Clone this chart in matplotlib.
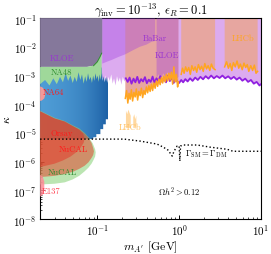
import matplotlib
matplotlib.use("Agg")
import matplotlib.pyplot as plt
import numpy as np
from matplotlib.colors import LinearSegmentedColormap
from matplotlib.patches import Polygon
from matplotlib.ticker import LogLocator, NullFormatter

plt.rcParams.update({
    "font.family": "serif",
    "font.serif": ["cmr10", "DejaVu Serif"],
    "mathtext.fontset": "cm",
    "axes.formatter.use_mathtext": True,
})

# ── Data (m_A' in GeV, kappa) ─────────────────────────────────────────────
XLIM = (0.02, 10.0)
YLIM = (1e-8, 1e-1)
XTICKS = [0.1, 1.0, 10.0]
YTICKS = [1e-8, 1e-7, 1e-6, 1e-5, 1e-4, 1e-3, 1e-2, 1e-1]

# KLOE (low mass, top-left block)
kloe1_m = [0.02, 0.115, 0.115, 0.108, 0.100, 0.090, 0.075, 0.02]
kloe1_k = [0.1, 0.1, 6.0e-3, 4.5e-3, 3.0e-3, 2.2e-3, 2.0e-3, 2.0e-3]

# BaBar lower boundary
babar_m = [0.115, 0.13, 0.15, 0.18, 0.22, 0.27, 0.33, 0.40, 0.46, 0.51]
babar_k = [2.6e-3, 3.0e-3, 3.5e-3, 4.4e-3, 5.5e-3, 7.5e-3, 1.0e-2, 1.2e-2, 1.5e-2, 1.6e-2]

# KLOE (high mass) lower boundary
kloe2_m = [0.53, 0.56, 0.60, 0.64, 0.68, 0.72, 0.76, 0.80, 0.85, 0.90, 0.95, 0.98]
kloe2_k = [8.0e-4, 1.1e-3, 7.5e-4, 1.2e-3, 8.5e-4, 1.3e-3, 9.0e-4, 1.2e-3, 7.0e-4, 1.0e-3, 8.0e-4, 9.0e-4]

# invisible-decay (purple) lower edge
purple_m = [0.100, 0.104, 0.108, 0.112, 0.116, 0.121, 0.126, 0.131, 0.136, 0.142,
            0.148, 0.154, 0.160, 0.167, 0.174, 0.181, 0.189, 0.197, 0.205, 0.214,
            0.223, 0.235, 0.248, 0.262, 0.277, 0.292, 0.308, 0.325, 0.343, 0.362,
            0.382, 0.403, 0.425, 0.449, 0.474, 0.500, 0.528, 0.557, 0.588, 0.620,
            0.655, 0.691, 0.729, 0.770, 0.812, 0.857, 0.905, 0.955, 1.00, 1.06,
            1.12, 1.19, 1.27, 1.36, 1.46, 1.57, 1.69, 1.82, 1.96, 2.11,
            2.28, 2.46, 2.66, 2.88, 3.12, 3.38, 3.66, 3.97, 4.30, 4.66,
            5.05, 5.47, 5.93, 6.42, 6.96, 7.54, 8.17, 8.85, 9.59, 10.0]
purple_k = [8.0e-4, 5.5e-4, 9.0e-4, 4.8e-4, 8.5e-4, 6.0e-4, 1.0e-3, 5.0e-4, 9.0e-4, 6.5e-4,
            1.1e-3, 5.2e-4, 8.0e-4, 4.5e-4, 9.5e-4, 6.0e-4, 8.5e-4, 4.8e-4, 9.0e-4, 6.2e-4,
            8.0e-4, 6.0e-4, 8.5e-4, 5.2e-4, 7.8e-4, 5.8e-4, 9.0e-4, 5.5e-4, 7.5e-4, 6.2e-4,
            8.8e-4, 5.4e-4, 7.2e-4, 6.0e-4, 9.2e-4, 5.6e-4, 8.0e-4, 6.5e-4, 9.5e-4, 6.0e-4,
            8.2e-4, 5.8e-4, 1.0e-3, 6.4e-4, 8.5e-4, 5.5e-4, 7.6e-4, 6.0e-4, 5.5e-4, 7.0e-4,
            5.8e-4, 7.5e-4, 6.2e-4, 8.0e-4, 6.5e-4, 8.5e-4, 7.0e-4, 9.0e-4, 7.4e-4, 9.5e-4,
            7.8e-4, 1.0e-3, 8.0e-4, 9.6e-4, 8.2e-4, 1.0e-3, 8.0e-4, 9.4e-4, 7.6e-4, 9.0e-4,
            7.2e-4, 8.5e-4, 6.6e-4, 7.8e-4, 6.0e-4, 7.0e-4, 5.2e-4, 6.0e-4, 4.5e-4, 5.0e-4]

# LHCb lower edges (three mass windows)
lhcb1_m = [0.220, 0.228, 0.236, 0.244, 0.252, 0.261, 0.270, 0.280, 0.290, 0.300,
           0.311, 0.322, 0.334, 0.346, 0.358, 0.371, 0.384, 0.398, 0.412, 0.427,
           0.442, 0.458, 0.474, 0.491, 0.509, 0.527, 0.546, 0.566, 0.586, 0.607,
           0.629, 0.651, 0.674, 0.698, 0.723, 0.749, 0.776, 0.804, 0.833, 0.862,
           0.893, 0.925, 0.958, 0.980]
lhcb1_k = [1.6e-4, 3.0e-4, 1.1e-4, 2.4e-4, 1.5e-4, 3.2e-4, 1.3e-4, 2.6e-4, 1.8e-4, 3.4e-4,
           1.4e-4, 2.8e-4, 2.0e-4, 3.6e-4, 1.7e-4, 3.0e-4, 2.2e-4, 4.0e-4, 2.5e-4, 4.4e-4,
           2.8e-4, 5.0e-4, 3.0e-4, 5.5e-4, 3.6e-4, 6.5e-4, 4.2e-4, 7.5e-4, 4.8e-4, 8.5e-4,
           5.5e-4, 9.5e-4, 6.0e-4, 1.1e-3, 6.5e-4, 1.2e-3, 7.0e-4, 1.3e-3, 5.0e-4, 2.0e-3,
           6.0e-4, 1.1e-3, 4.0e-4, 6.0e-4]
lhcb2_m = [1.06, 1.10, 1.15, 1.20, 1.25, 1.31, 1.37, 1.43, 1.50, 1.57, 1.64,
           1.72, 1.80, 1.88, 1.97, 2.06, 2.16, 2.26, 2.37, 2.48, 2.60, 2.75]
lhcb2_k = [1.1e-3, 1.8e-3, 1.2e-3, 2.0e-3, 1.4e-3, 1.9e-3, 1.1e-3, 2.2e-3, 1.5e-3, 2.0e-3, 1.3e-3,
           2.4e-3, 1.6e-3, 2.1e-3, 1.4e-3, 2.6e-3, 1.7e-3, 2.2e-3, 1.5e-3, 2.5e-3, 1.8e-3, 1.6e-3]
lhcb3_m = [3.6, 3.8, 4.0, 4.2, 4.4, 4.6, 4.85, 5.1, 5.35, 5.6,
           5.9, 6.2, 6.5, 6.8, 7.1, 7.5, 7.9, 8.3, 8.7, 9.1]
lhcb3_k = [2.0e-3, 3.0e-3, 1.8e-3, 2.6e-3, 1.5e-3, 2.8e-3, 2.0e-3, 3.2e-3, 1.8e-3, 2.5e-3,
           1.6e-3, 2.7e-3, 1.9e-3, 2.4e-3, 1.4e-3, 2.2e-3, 1.5e-3, 2.3e-3, 1.2e-3, 1.4e-3]

# LHCb displaced islands
lhcb_isl1_m = [0.224, 0.232, 0.240, 0.248, 0.256, 0.256, 0.224]
lhcb_isl1_k = [6.0e-5, 4.5e-5, 6.5e-5, 5.0e-5, 4.0e-5, 1.5e-5, 1.5e-5]
lhcb_isl2_m = [0.275, 0.283, 0.291, 0.300, 0.300, 0.275]
lhcb_isl2_k = [3.5e-5, 4.5e-5, 3.0e-5, 4.0e-5, 1.5e-5, 1.5e-5]

# blue region (top edge then staircase)
blue_m = [0.02, 0.113, 0.116, 0.119, 0.122, 0.125, 0.128, 0.131, 0.134, 0.136,
          0.136, 0.127, 0.127, 0.118, 0.118, 0.109, 0.109, 0.0972, 0.0972, 0.0894,
          0.0894, 0.02]
blue_k = [1.9e-3, 1.9e-3, 6.5e-4, 9.5e-4, 5.8e-4, 8.8e-4, 6.2e-4, 9.0e-4, 5.5e-4, 7.5e-4,
          3.0e-5, 3.0e-5, 2.0e-5, 2.0e-5, 1.36e-5, 1.36e-5, 9.1e-6, 9.1e-6, 7.1e-6, 7.1e-6,
          6.1e-6, 6.1e-6]

# NA48/2
na48_top_m = [0.02, 0.075, 0.090, 0.100, 0.108, 0.113]
na48_top_k = [2.0e-3, 2.0e-3, 2.2e-3, 3.0e-3, 4.5e-3, 6.0e-3]
na48_bot_m = [0.113, 0.110, 0.107, 0.104, 0.101, 0.098, 0.095, 0.092, 0.089, 0.086,
              0.083, 0.080, 0.077, 0.074, 0.071, 0.068, 0.065, 0.062, 0.059, 0.056,
              0.053, 0.050, 0.047, 0.044, 0.041, 0.038, 0.035, 0.032, 0.029, 0.026,
              0.023, 0.020]
na48_bot_k = [1.2e-3, 7.0e-4, 1.1e-3, 6.0e-4, 1.0e-3, 7.5e-4, 1.2e-3, 6.5e-4, 1.0e-3, 5.5e-4,
              9.0e-4, 7.0e-4, 1.2e-3, 6.0e-4, 9.5e-4, 5.2e-4, 1.1e-3, 7.0e-4, 1.3e-3, 6.0e-4,
              9.0e-4, 5.5e-4, 1.0e-3, 6.5e-4, 1.2e-3, 5.8e-4, 9.0e-4, 5.0e-4, 8.0e-4, 4.5e-4,
              7.0e-4, 5.0e-4]

# NA64
na64_m = [0.02, 0.0215, 0.0228, 0.0232, 0.0225, 0.021, 0.02]
na64_k = [4.2e-4, 3.8e-4, 3.0e-4, 2.2e-4, 1.6e-4, 1.35e-4, 1.3e-4]

# beam dumps
nucal_g_m = [0.02, 0.03, 0.04, 0.05, 0.06, 0.07, 0.08, 0.088, 0.094, 0.0955,
             0.094, 0.09, 0.085, 0.078, 0.07, 0.06, 0.05, 0.04, 0.03, 0.02]
nucal_g_k = [6.0e-5, 3.4e-5, 2.6e-5, 1.85e-5, 1.45e-5, 1.0e-5, 6.6e-6, 4.3e-6, 2.7e-6, 2.1e-6,
             1.5e-6, 1.15e-6, 8.5e-7, 6.2e-7, 4.6e-7, 3.2e-7, 2.4e-7, 1.9e-7, 1.7e-7, 1.6e-7]
nucal_r_m = [0.02, 0.03, 0.04, 0.05, 0.06, 0.07, 0.078, 0.085, 0.089, 0.091,
             0.089, 0.085, 0.078, 0.07, 0.06, 0.05, 0.04, 0.03, 0.02]
nucal_r_k = [5.7e-5, 3.2e-5, 2.5e-5, 1.75e-5, 1.35e-5, 9.5e-6, 6.8e-6, 4.5e-6, 3.0e-6, 2.3e-6,
             1.7e-6, 1.35e-6, 9.5e-7, 7.2e-7, 5.6e-7, 4.4e-7, 3.7e-7, 3.2e-7, 2.9e-7]
orsay_m = [0.02, 0.03, 0.04, 0.05, 0.06, 0.067, 0.07, 0.068, 0.062, 0.055,
           0.047, 0.038, 0.03, 0.02]
orsay_k = [5.7e-5, 3.2e-5, 2.5e-5, 1.75e-5, 1.3e-5, 9.5e-6, 6.5e-6, 4.5e-6, 3.0e-6, 2.1e-6,
           1.5e-6, 1.1e-6, 8.5e-7, 6.5e-7]
e137_m = [0.02, 0.0215, 0.0225, 0.0225, 0.0215, 0.02]
e137_k = [3.5e-7, 3.0e-7, 2.0e-7, 1.0e-7, 7.0e-8, 6.0e-8]

# Gamma_SM = Gamma_DM contour
gamma_m = [0.02, 0.213, 0.334, 0.537, 0.64, 0.735, 0.822, 0.866, 0.945, 1.0,
           1.02, 1.04, 1.12, 1.66, 2.39, 3.86, 4.55, 10.0]
gamma_k = [6.1e-6, 6.1e-6, 5.2e-6, 4.1e-6, 3.2e-6, 2.5e-6, 1.56e-6, 2.3e-6, 3.5e-6, 3.5e-6,
           1.05e-6, 3.5e-6, 3.8e-6, 3.8e-6, 3.2e-6, 2.7e-6, 2.3e-6, 2.3e-6]

# colours
LAVENDER = "#dcabef"
PURPLE = "#a040e0"
PURPLE_EDGE = "#9020e0"
SALMON = "#e7a6a0"
ORANGE = "#ffa520"
KLOE_GREY = "#85789b"
GREEN = "#9fd89a"
DKGREEN = "#2e8b2e"
RED = "#ff1a1a"


def closed_top(m, k, top=YLIM[1]):
    return [m[0]] + list(m) + [m[-1]], [top] + list(k) + [top]


fig = plt.figure(figsize=(2.71, 2.55), dpi=100)
ax = fig.add_axes([0.148, 0.137, 0.815, 0.788])
ax.set_xscale("log")
ax.set_yscale("log")

# invisible (lavender) + LHCb (salmon)
ax.fill(*closed_top(purple_m, purple_k), color=LAVENDER, lw=0, zorder=1)
for lm, lk in [(lhcb1_m, lhcb1_k), (lhcb2_m, lhcb2_k), (lhcb3_m, lhcb3_k)]:
    ax.fill(*closed_top(lm, lk), color=SALMON, lw=0, zorder=2)

# BaBar and KLOE overlays
ax.fill(*closed_top(babar_m, babar_k), color=PURPLE, alpha=0.38, lw=0, zorder=3)
ax.fill(*closed_top(kloe2_m, kloe2_k), color=PURPLE, alpha=0.38, lw=0, zorder=3)

ax.plot(purple_m[20:], purple_k[20:], color=PURPLE_EDGE, lw=1.3, zorder=4)
for lm, lk in [(lhcb1_m, lhcb1_k), (lhcb2_m, lhcb2_k), (lhcb3_m, lhcb3_k)]:
    ax.plot(lm, lk, color=ORANGE, lw=1.1, zorder=4)

ax.fill(lhcb_isl1_m, lhcb_isl1_k, color="#ffc878", alpha=0.7, lw=0, zorder=4)
ax.fill(lhcb_isl2_m, lhcb_isl2_k, color="#ffc878", alpha=0.7, lw=0, zorder=4)

ax.fill(kloe1_m, kloe1_k, color=KLOE_GREY, lw=0, zorder=5)

# blue region with horizontal gradient
blue_poly = Polygon(np.column_stack([blue_m, blue_k]), closed=True,
                    transform=ax.transData, facecolor="none", edgecolor="none")
ax.add_patch(blue_poly)
cmap_blue = LinearSegmentedColormap.from_list("blue", ["#4f9dd6", "#1b5ea4"])
im = ax.imshow(np.linspace(0, 1, 256).reshape(1, -1), cmap=cmap_blue,
               extent=[0.02, 0.136, 6e-6, 2e-3], aspect="auto",
               interpolation="bilinear", zorder=5)
im.set_clip_path(blue_poly)

# NA48/2
ax.fill(na48_top_m + na48_bot_m, na48_top_k + na48_bot_k, color=GREEN, lw=0, zorder=6)
ax.plot(na48_top_m[2:], na48_top_k[2:], color=DKGREEN, lw=0.7, zorder=6)

ax.fill(na64_m, na64_k, color="#f29a9a", lw=0, zorder=6)

# beam dumps
ax.fill(nucal_g_m, nucal_g_k, color="#8fd47f", alpha=0.6, lw=0, zorder=7)
ax.fill(nucal_r_m, nucal_r_k, color="#e0472d", alpha=0.55, lw=0, zorder=7)
ax.fill(orsay_m, orsay_k, color="#e8281e", alpha=0.45, lw=0, zorder=7)
ax.fill(e137_m, e137_k, color="#ff8c96", alpha=0.85, lw=0, zorder=7)

ax.plot(gamma_m, gamma_k, color="black", ls=":", lw=1.0, zorder=8)

# labels
fs = 6.2
ax.text(0.026, 4.0e-3, "KLOE", color="#9a35d0", fontsize=fs, va="center", zorder=10)
ax.text(0.027, 1.3e-3, "NA48", color=DKGREEN, fontsize=fs, va="center", zorder=10)
ax.text(0.0215, 2.8e-4, "NA64", color=RED, fontsize=fs, va="center", zorder=10)
ax.text(0.51, 2.0e-2, "BaBar", color="#9a35d0", fontsize=fs, ha="center", va="center", zorder=10)
ax.text(0.71, 5.1e-3, "KLOE", color="#9a35d0", fontsize=fs, ha="center", va="center", zorder=10)
ax.text(6.0, 2.0e-2, "LHCb", color=ORANGE, fontsize=fs, ha="center", va="center", zorder=10)
ax.text(0.253, 1.6e-5, "LHCb", color="#ffc060", fontsize=fs, ha="center", va="center", zorder=10)
ax.text(0.0364, 1.0e-5, "Orsay", color=RED, fontsize=fs, ha="center", va="center", zorder=10)
ax.text(0.051, 2.9e-6, "NuCAL", color=RED, fontsize=fs, ha="center", va="center", zorder=10)
ax.text(0.0374, 4.3e-7, "NuCAL", color=DKGREEN, fontsize=fs, ha="center", va="center", zorder=10)
ax.text(0.021, 1.0e-7, "E137", color="#ff4050", fontsize=fs, va="center", zorder=10)
ax.text(1.18, 1.95e-6, r"$\Gamma_{\rm SM} = \Gamma_{\rm DM}$", fontsize=fs,
        va="center", zorder=10)
ax.text(1.0, 1.0e-7, r"$\Omega h^2 > 0.12$", fontsize=fs, ha="center", va="center", zorder=10)

ax.set_xlim(*XLIM)
ax.set_ylim(*YLIM)
ax.set_xticks(XTICKS)
ax.set_yticks(YTICKS)
ax.yaxis.set_minor_locator(LogLocator(base=10, subs=np.arange(2, 10), numticks=12))
ax.yaxis.set_minor_formatter(NullFormatter())
ax.xaxis.set_minor_formatter(NullFormatter())
ax.tick_params(which="both", direction="in", labelsize=8, pad=2.5)
ax.tick_params(which="major", length=3, width=0.7)
ax.tick_params(which="minor", length=1.6, width=0.5)

ax.set_title(r"$\gamma_{\rm inv} = 10^{-13}$, $\epsilon_R = 0.1$", fontsize=9, pad=2.5)
ax.set_xlabel(r"$m_{A'}$ [GeV]", fontsize=8.5, labelpad=1)
ax.set_ylabel(r"$\kappa$", fontsize=8.5, labelpad=1)

fig.savefig("out.png", dpi=100)
